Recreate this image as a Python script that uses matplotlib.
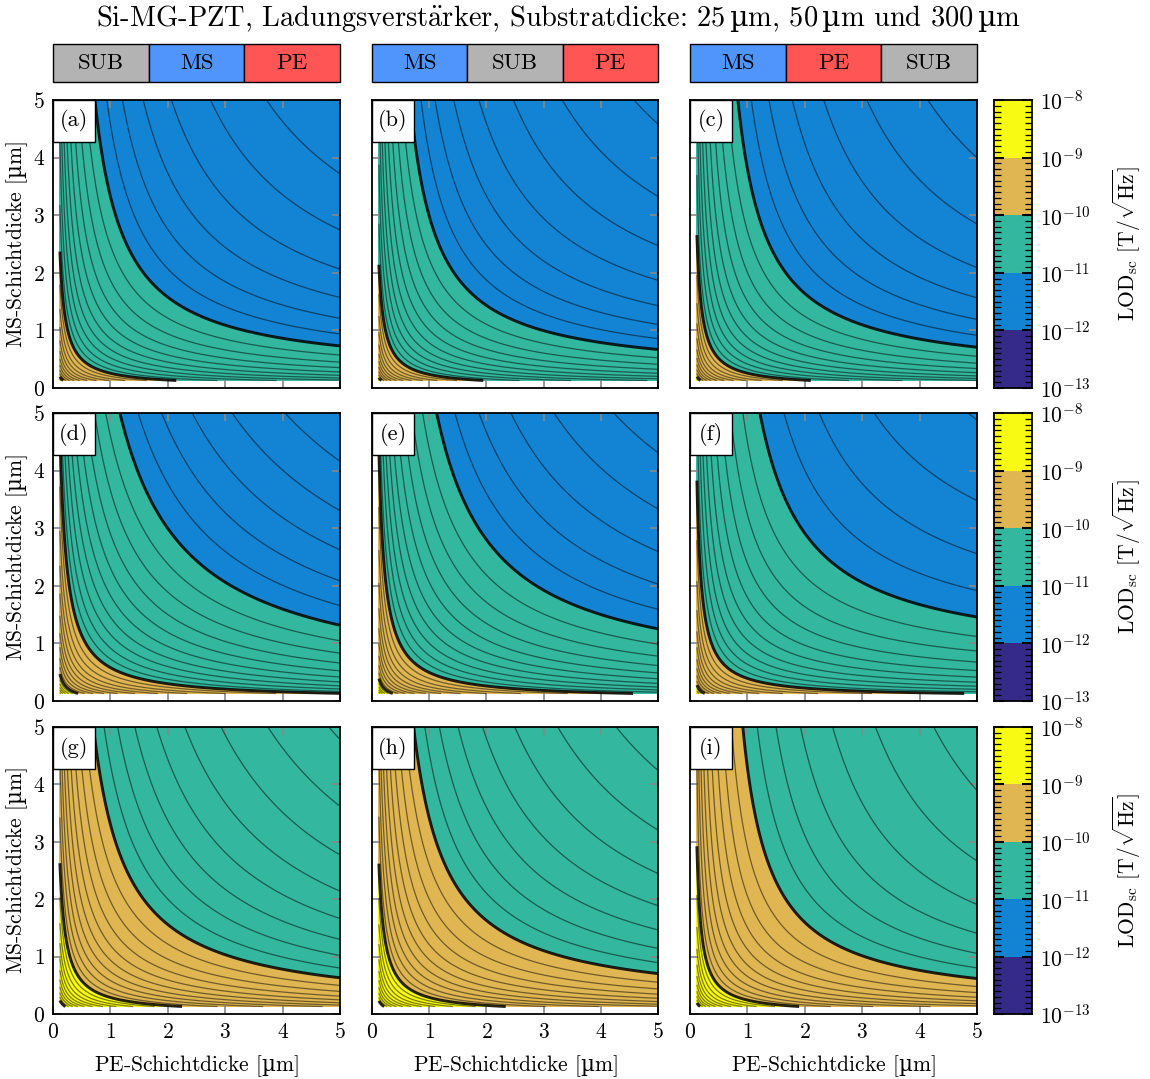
import numpy as np
import matplotlib
matplotlib.use("Agg")
import matplotlib.pyplot as plt
from matplotlib.colors import ListedColormap, BoundaryNorm
from matplotlib.patches import Rectangle
from matplotlib.ticker import FixedLocator, LogFormatterSciNotation, NullFormatter

plt.rcParams['font.family'] = ['cmr10', 'DejaVu Serif']
plt.rcParams['mathtext.fontset'] = 'custom'
plt.rcParams['mathtext.rm'] = 'cmr10'
plt.rcParams['mathtext.it'] = 'cmmi10'
plt.rcParams['mathtext.bf'] = 'cmb10'
plt.rcParams['mathtext.sf'] = 'DejaVu Serif'
plt.rcParams['mathtext.tt'] = 'cmtt10'
plt.rcParams['mathtext.cal'] = 'cmsy10'
plt.rcParams['mathtext.fallback'] = 'cm'
plt.rcParams['axes.formatter.use_mathtext'] = True
plt.rcParams['axes.unicode_minus'] = False

# ---------------- data ----------------
MU = r"$\mathsf{µ}$"
title = ("Si-MG-PZT, Ladungsverst$\\ddot{\\mathrm{a}}$rker, Substratdicke: "
         "25$\\,\\mathsf{µ}$m, 50$\\,\\mathsf{µ}$m und 300$\\,\\mathsf{µ}$m")
xlabel = "PE-Schichtdicke [" + MU + "m]"
ylabel = "MS-Schichtdicke [" + MU + "m]"
cbar_label = r"LOD$_{\mathrm{sc}}$ [T/$\sqrt{\mathrm{Hz}}$]"
stacks = [["SUB", "MS", "PE"], ["MS", "SUB", "PE"], ["MS", "PE", "SUB"]]
layer_colors = {"SUB": "#b3b3b3", "MS": "#4f95fb", "PE": "#ff5555"}
panel_labels = ["(a)", "(b)", "(c)", "(d)", "(e)", "(f)", "(g)", "(h)", "(i)"]
# per panel (row-major): LOD scale [T/sqrt(Hz) * um^2] and saturation terms
lod_scale = [2.27e-11, 2.09e-11, 2.30e-11, 5.6e-11, 4.59e-11, 3.13e-11, 2.78e-10, 2.70e-10, 2.2e-10]
sat_pe = [0.10, 0.10, 0.08, 0.035, 0.063, 0.20, 0.02, 0.05, 0.05]
sat_ms = [0.10, 0.10, 0.14, 0.0, 0.03, 0.113, 0.05, 0.06, 0.20]
decades = [1e-13, 1e-12, 1e-11, 1e-10, 1e-9, 1e-8]
band_colors = ["#352a87", "#1384d4", "#33b79f", "#e0b652", "#f9fa14"]
ticks = [0, 1, 2, 3, 4, 5]
pe_range = (0.12, 5.0)
ms_range = (0.13, 5.0)

# ---------------- figure ----------------
W, H = 1150, 1079
fig = plt.figure(figsize=(W / 100, H / 100), dpi=100)

def fx(px):
    return px / W

def fy(py):
    return 1 - py / H

col_x = [(53, 340), (372, 658), (690, 977)]
row_y = [(100, 388), (413, 701), (727, 1014)]
cbar_x = (994, 1032)

cmap = ListedColormap(band_colors)
norm = BoundaryNorm(decades, cmap.N)
thin_levels = [10 ** (n + k / 10) for n in range(-13, -8) for k in range(1, 10)]

pe = np.linspace(pe_range[0], pe_range[1], 400)
ms = np.linspace(ms_range[0], ms_range[1], 400)
PE, MS = np.meshgrid(pe, ms)

fs = 15.5
for r in range(3):
    for c in range(3):
        i = 3 * r + c
        x0, x1 = col_x[c]
        y0, y1 = row_y[r]
        ax = fig.add_axes([fx(x0), fy(y1), fx(x1 - x0), (y1 - y0) / H])
        lod = lod_scale[i] * (1 / PE + sat_pe[i]) * (1 / MS + sat_ms[i])
        ax.contourf(PE, MS, lod, levels=decades, cmap=cmap, norm=norm)
        ax.contour(PE, MS, lod, levels=thin_levels, colors="black",
                   linewidths=0.9, alpha=0.5)
        ax.contour(PE, MS, lod, levels=decades, colors="black",
                   linewidths=2.1, alpha=0.85)
        ax.set_xlim(0, 5)
        ax.set_ylim(0, 5)
        ax.set_xticks(ticks)
        ax.set_yticks(ticks)
        ax.tick_params(direction="in", top=True, right=True, length=6,
                       width=1.2, color="#888888", labelsize=fs, pad=6)
        for sp in ax.spines.values():
            sp.set_linewidth(1.3)
        if r < 2:
            ax.tick_params(labelbottom=False)
        else:
            ax.set_xlabel(xlabel, fontsize=fs, labelpad=8)
        if c > 0:
            ax.tick_params(labelleft=False)
        else:
            ax.set_ylabel(ylabel, fontsize=fs, labelpad=2)
        bw = 42 / (x1 - x0)
        bh = 42 / (y1 - y0)
        ax.add_patch(Rectangle((0, 1 - bh), bw, bh, transform=ax.transAxes,
                               facecolor="white", edgecolor="black", lw=1.0,
                               zorder=10, clip_on=False))
        ax.text(bw / 2, 1 - bh / 2, panel_labels[i], transform=ax.transAxes,
                ha="center", va="center", fontsize=16, zorder=11)

    # colorbar
    y0, y1 = row_y[r]
    cax = fig.add_axes([fx(cbar_x[0]), fy(y1), fx(cbar_x[1] - cbar_x[0]), (y1 - y0) / H])
    yy = np.array(decades)
    C = np.sqrt(yy[:-1] * yy[1:]).reshape(-1, 1)
    cax.pcolormesh([0, 1], yy, C, cmap=cmap, norm=norm)
    cax.set_yscale("log")
    cax.set_ylim(decades[0], decades[-1])
    cax.set_xlim(0, 1)
    cax.set_xticks([])
    cax.yaxis.set_major_locator(FixedLocator(decades))
    cax.yaxis.set_major_formatter(LogFormatterSciNotation())
    cax.yaxis.set_minor_locator(FixedLocator(thin_levels))
    cax.yaxis.set_minor_formatter(NullFormatter())
    cax.tick_params(which="both", direction="in", left=True, right=True,
                    labelleft=False, labelright=True, labelsize=fs, color="black")
    cax.tick_params(which="major", length=7, width=1.5, pad=6)
    cax.tick_params(which="minor", length=5, width=0.9)
    for sp in cax.spines.values():
        sp.set_linewidth(1.3)
    cax.yaxis.set_label_position("right")
    cax.set_ylabel(cbar_label, fontsize=fs, rotation=90, labelpad=14)

# layer stack headers
for c in range(3):
    x0, x1 = col_x[c]
    hax = fig.add_axes([fx(x0), fy(82), fx(x1 - x0), 38 / H])
    hax.set_xlim(0, 3)
    hax.set_ylim(0, 1)
    hax.axis("off")
    for j, name in enumerate(stacks[c]):
        hax.add_patch(Rectangle((j, 0), 1, 1, facecolor=layer_colors[name],
                                edgecolor="black", lw=1.0, clip_on=False))
        hax.text(j + 0.5, 0.5, name, ha="center", va="center", fontsize=16.5)

fig.text(fx(558), fy(18), title, ha="center", va="center", fontsize=20.5)

fig.savefig("out.png", dpi=100)
